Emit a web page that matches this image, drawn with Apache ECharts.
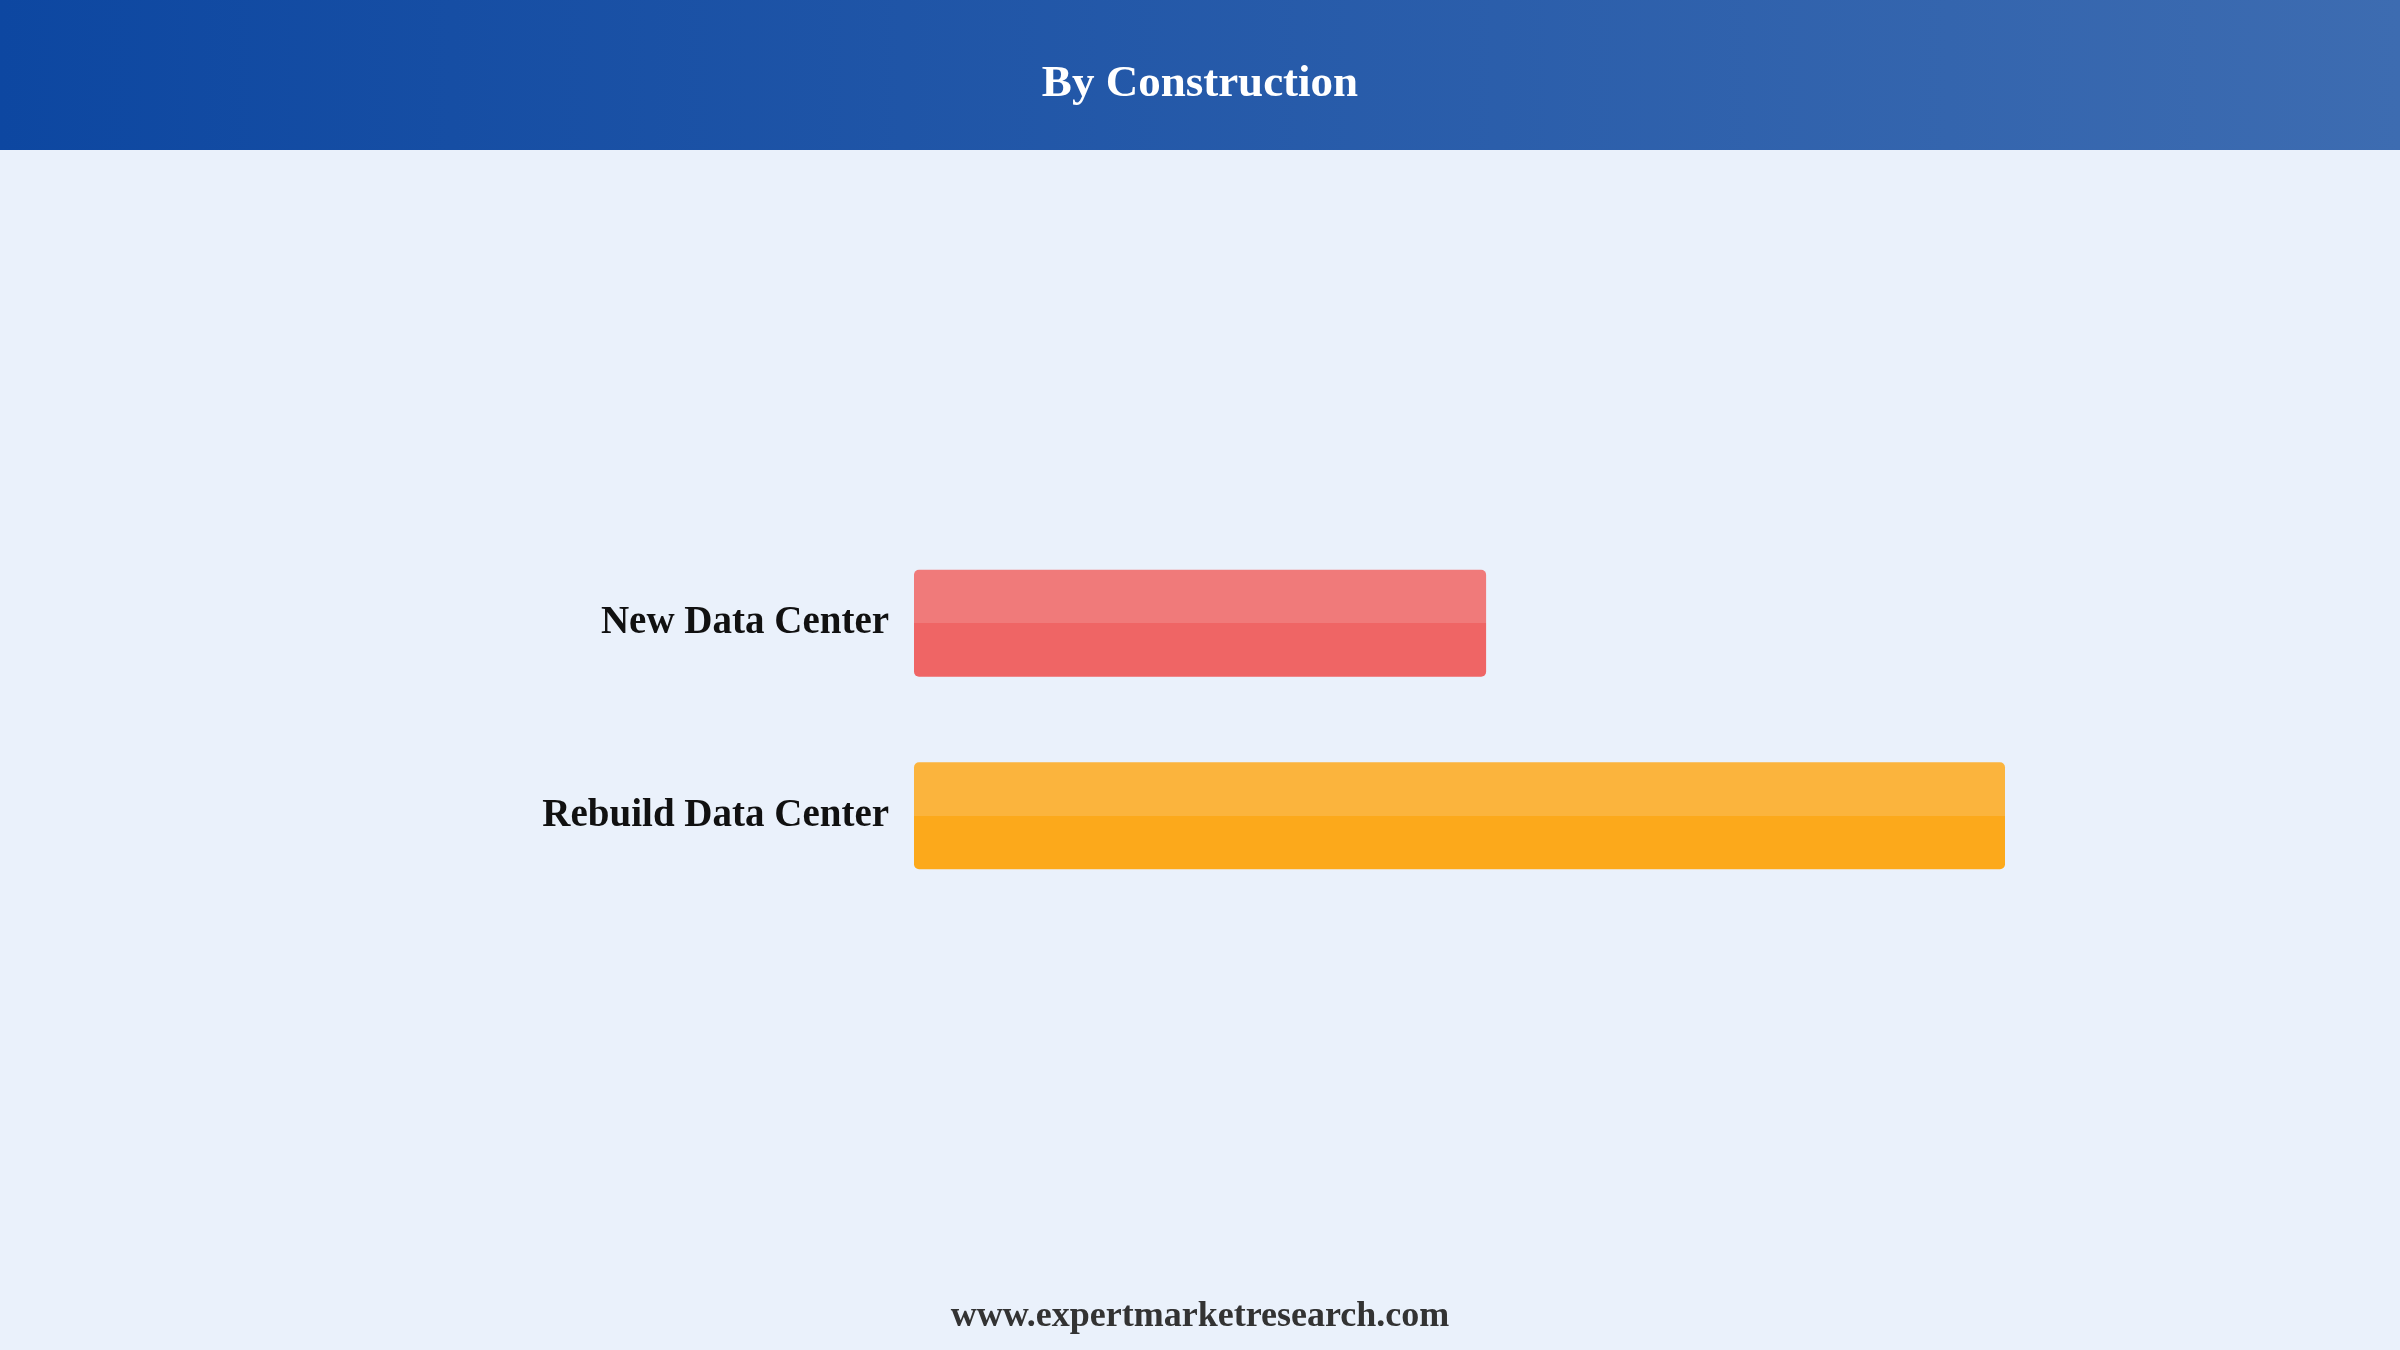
<!DOCTYPE html>
<html>
<head>
<meta charset="utf-8">
<script src="https://cdn.jsdelivr.net/npm/echarts@6/dist/echarts.min.js"></script>
<style>
html,body{margin:0;padding:0;background:#EAF1FB;}
#chart{width:2400px;height:1350px;}
</style>
</head>
<body>
<div id="chart"></div>
<script>
const titleText = 'By Construction';
const footerText = 'www.expertmarketresearch.com';
const categories = ['New Data Center', 'Rebuild Data Center'];
const values = [34.4, 65.6];
const topColors = ['#F07A7A', '#FBB43D'];
const baseColors = ['#EF6565', '#FCA91B'];

const chart = echarts.init(document.getElementById('chart'));
const serif = '"Liberation Serif", "DejaVu Serif", serif';
chart.setOption({
  backgroundColor: '#EAF1FB',
  animation: false,
  graphic: [
    {
      type: 'rect', left: 0, top: 0, z: 0,
      shape: { width: 2400, height: 150 },
      style: {
        fill: new echarts.graphic.LinearGradient(0, 0, 1, 0, [
          { offset: 0, color: '#0D47A1' },
          { offset: 1, color: '#3D6CB1' }
        ])
      }
    },
    {
      type: 'text', left: 'center', top: 62, z: 2,
      style: { text: titleText, fill: '#FFFFFF', font: 'bold 45px ' + serif }
    },
    {
      type: 'text', left: 'center', top: 1299, z: 2,
      style: { text: footerText, fill: '#333333', font: 'bold 36px ' + serif }
    }
  ],
  grid: { left: 914, right: 395, top: 527, height: 385, containLabel: false },
  xAxis: {
    type: 'value', min: 0, max: 'dataMax',
    show: false
  },
  yAxis: {
    type: 'category', data: categories, inverse: true,
    axisLine: { show: false }, axisTick: { show: false },
    axisLabel: { margin: 25, padding: [6, 0, 0, 0], color: '#111111', fontSize: 39, fontWeight: 'bold', fontFamily: serif }
  },
  series: [{
    type: 'bar',
    barWidth: 107,
    data: values.map((v, i) => ({
      value: v,
      itemStyle: {
        borderRadius: 5,
        color: new echarts.graphic.LinearGradient(0, 0, 0, 1, [
          { offset: 0, color: topColors[i] },
          { offset: 0.5, color: topColors[i] },
          { offset: 0.5, color: baseColors[i] },
          { offset: 1, color: baseColors[i] }
        ])
      }
    }))
  }]
});
</script>
</body>
</html>
